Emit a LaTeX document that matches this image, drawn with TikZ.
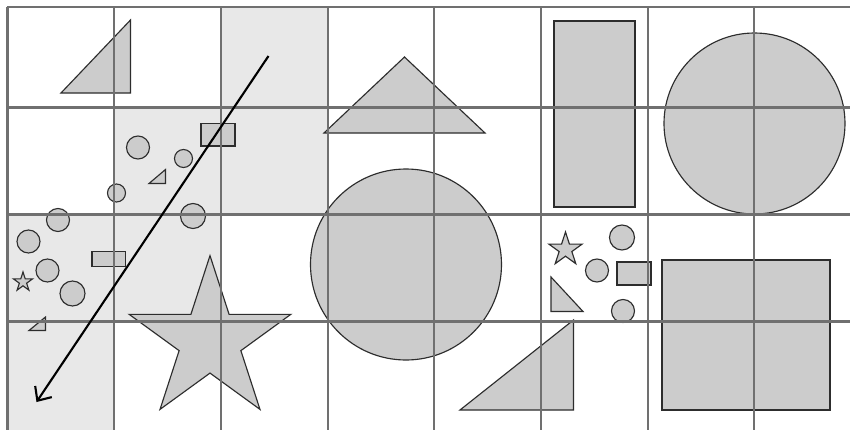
\documentclass[tikz,border=0pt]{standalone}
\usetikzlibrary{arrows.meta}
\definecolor{gdline}{RGB}{112,112,112}
\definecolor{gdcell}{RGB}{232,232,232}
\definecolor{gdshape}{RGB}{204,204,204}
\definecolor{gdedge}{RGB}{45,45,45}
\tikzset{
  gdgrid/.style={draw=gdline, line width=1.6pt},
  gdhit/.style={fill=gdcell},
  gdobj/.style={draw=gdedge, fill=gdshape, line width=.65pt},
  gdray/.style={-{Straight Barb[length=2.2mm, width=4mm]}, line width=1.2pt, draw=black}
}
\newcommand{\gdstar}[3]{\draw[gdobj] (#1,{#2-#3}) \foreach \k in {1,...,9} { -- ({#1+(mod(\k,2)==1?0.382:1)*#3*sin(36*\k)},{#2-(mod(\k,2)==1?0.382:1)*#3*cos(36*\k)}) } -- cycle;}

\begin{document}
\begin{tikzpicture}[x=.02cm, y=-.02cm]
  \useasboundingbox (0,0) rectangle (850,430);
  \clip (0,0) rectangle (850,430);
  \fill[white] (0,0) rectangle (850,430);
  \fill[gdhit] (221,7) rectangle (328,214);
  \fill[gdhit] (114,107) rectangle (221,321);
  \fill[gdhit] (7.5,214) rectangle (114,430);
  % big shapes
  \draw[gdobj] (61,93) -- (130.5,20) -- (130.5,93) -- cycle;
  \draw[gdobj] (324,133) -- (404.5,57) -- (485,133) -- cycle;
  \draw[gdobj] (554,21) rectangle (635,207);
  \draw[gdobj] (754.5,123.5) circle[radius=90.5];
  \draw[gdobj] (406,264.5) circle[radius=95.5];
  \gdstar{210}{340.6}{85}
  \draw[gdobj] (460,410) -- (573.5,320) -- (573.5,410) -- cycle;
  \draw[gdobj] (662,260) rectangle (830,410);
  % small shapes
  \draw[gdobj] (201,123.5) rectangle (235,146);
  \draw[gdobj] (138,147.5) circle[radius=11.5];
  \draw[gdobj] (183.5,158.5) circle[radius=9];
  \draw[gdobj] (116.5,193) circle[radius=9];
  \draw[gdobj] (193,216) circle[radius=12.5];
  \draw[gdobj] (149,183.5) -- (165.5,169.5) -- (165.5,183.5) -- cycle;
  \draw[gdobj] (58,220) circle[radius=11.5];
  \draw[gdobj] (28.5,241.5) circle[radius=11.5];
  \draw[gdobj] (47.5,270.5) circle[radius=11.5];
  \draw[gdobj] (72.5,293.5) circle[radius=12.5];
  \gdstar{23}{282}{10}
  \draw[gdobj] (92,251.5) rectangle (125.5,266.5);
  \draw[gdobj] (29,330.5) -- (45.5,317) -- (45.5,330.5) -- cycle;
  \gdstar{565.5}{249.5}{17.5}
  \draw[gdobj] (622,237.5) circle[radius=12.5];
  \draw[gdobj] (597,270.5) circle[radius=11.5];
  \draw[gdobj] (623,311) circle[radius=11.5];
  \draw[gdobj] (617,262) rectangle (651,285);
  \draw[gdobj] (551,277) -- (583,311.5) -- (551,311.5) -- cycle;
  % grid
  \foreach \gx in {7.5,114,221,328,434,541,648,754}
    \draw[gdgrid] (\gx,7) -- (\gx,430);
  \foreach \gy in {7,107.5,214.5,321.5}
    \draw[gdgrid] (7.5,\gy) -- (850,\gy);
  \coordinate (rayfrom) at (268.5,56);
  \coordinate (rayto) at (36.5,402);
  \draw[gdray] (rayfrom) -- (rayto);
\end{tikzpicture}
\end{document}
